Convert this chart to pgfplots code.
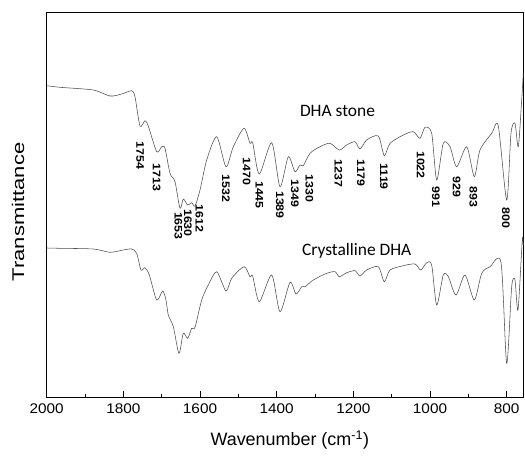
\documentclass[border=0pt]{standalone}
\usepackage{pgfplots}
\pgfplotsset{compat=1.18}
\usepackage{fontspec}
\setmainfont{Liberation Sans}
\newfontfamily\calfont{Carlito}
\begin{document}
\begin{tikzpicture}
\useasboundingbox (-46.7bp,-58.3bp) rectangle (478.3bp,397.7bp);
\begin{axis}[
  at={(0,0)}, anchor=south west,
  scale only axis, width=476.6bp, height=385.4bp,
  x dir=reverse, xmin=756.7, xmax=2000,
  y dir=reverse, ymin=12.3, ymax=397.7,
  xtick={800,1000,...,2000}, minor xtick={900,1100,...,1900},
  ytick=\empty,
  xtick pos=bottom, tick align=inside,
  major tick length=7bp, minor tick length=3.5bp,
  tick style={black, line width=0.9pt},
  axis line style={line width=1.1pt},
  /pgf/number format/assume math mode=true,
  /pgf/number format/1000 sep={},
  xticklabel style={font=\fontsize{14}{14}\selectfont, xscale=1.1, yshift=-2.5bp},
  xlabel={Wavenumber (cm\textsuperscript{-1})},
  xlabel style={font=\fontsize{18}{18}\selectfont, at={(axis description cs:0.51,-0.11)}, anchor=center},
  ylabel={Transmittance},
  ylabel style={font=\fontsize{17}{17}\selectfont, xscale=1.3, at={(axis description cs:-0.060,0.482)}, anchor=center, rotate=0},
  clip=false,
]
\addplot[color=black!70, line width=0.55pt, mark=none, smooth, tension=0.45] coordinates {
(2000,85.7) (1965.3,87.3) (1878.4,90) (1834.9,96) (1804.3,94) (1778.3,90.7)
(1769.7,96.7) (1756.6,126) (1743.6,120.7) (1735,126) (1713,151.7) (1700,146.7)
(1691.4,148.3) (1678.3,173.3) (1665.3,181.7) (1652.3,208.3) (1643.7,199)
(1632.2,205) (1621.7,202.7) (1613.1,206) (1600,190) (1582.6,160) (1556.5,136.7)
(1532.3,166.7) (1513.2,146.7) (1485.3,128.3) (1469.6,143.3) (1462.6,142.7)
(1445.4,174) (1413,142.7) (1391.4,186.7) (1369.7,156.7) (1352.3,171.7)
(1339.2,165) (1330.6,165.7) (1313.1,153.3) (1287,146.7) (1261,143.3)
(1236.7,150) (1217.4,145) (1195.7,141.7) (1182.7,149) (1165.2,140) (1135,136)
(1119.3,155.7) (1104.4,143.3) (1069.7,135) (1043.7,131.7) (1026.2,138.3)
(1013.1,127.3) (995.7,133.3) (982.6,180) (965.4,143.3) (947.9,146.7)
(930.4,166.7) (904.3,146.7) (884.5,176.7) (869.7,150) (839.1,133.3)
(821.9,126) (800,200) (788.8,133.3) (778.4,123.3) (769.7,146.7) (760.9,100)
(756.7,73.3)
};
\addplot[color=black!70, line width=0.55pt, mark=none, smooth, tension=0.45] coordinates {
(2000,248) (1965.3,248.3) (1878.4,249) (1834.9,252.3) (1800.2,250) (1778.3,249)
(1765.2,253.3) (1754,270) (1743.6,267.7) (1732.3,275) (1713,300) (1697.4,291)
(1688.8,300) (1682.8,315) (1669.7,326.7) (1654.9,353.3) (1643.7,333.3)
(1632.2,338.3) (1621.7,328.3) (1613.1,327.3) (1595.7,300) (1578.4,285)
(1556.5,271.7) (1532.3,291) (1517.4,278.3) (1485.3,266.7) (1469.6,276.7)
(1462.6,276) (1445.4,301.7) (1413,275) (1391.4,311.7) (1365.3,282.3)
(1349.6,294) (1334.8,286.7) (1326.2,286.7) (1304.5,280) (1269.6,273.3)
(1247.9,271.7) (1236.7,276.7) (1217.4,272.7) (1195.7,270.7) (1182.7,276)
(1165.2,270) (1135,266.7) (1119.3,281.7) (1104.4,270) (1069.7,265.7)
(1039.2,264) (1024.3,270) (1008.7,262.7) (995.7,265) (982.6,305) (965.4,275)
(952.3,276.7) (932.3,295) (908.8,275) (884.5,300) (865.2,273.3) (843.5,266.7)
(814.8,262.7) (800,363.3) (787,286.7) (778.4,280) (770.5,310) (759.3,240)
(756.7,245)
};
\begin{scope}[every node/.style={font=\fontsize{11}{11}\selectfont\bfseries, rotate=-90, xscale=1.13, anchor=center, inner sep=0pt}]
\node at (axis cs:1756.6,155.5) {1754};
\node at (axis cs:1713,177.5) {1713};
\node at (axis cs:1656.2,225.8) {1653};
\node at (axis cs:1631.4,223) {1630};
\node at (axis cs:1601.4,218.7) {1612};
\node at (axis cs:1532.3,188.3) {1532};
\node at (axis cs:1478.3,171.7) {1470};
\node at (axis cs:1445.4,195) {1445};
\node at (axis cs:1391.4,205) {1389};
\node at (axis cs:1352.3,193.3) {1349};
\node at (axis cs:1315,188.3) {1330};
\node at (axis cs:1239.3,173.3) {1237};
\node at (axis cs:1180.1,173.3) {1179};
\node at (axis cs:1120.1,176.7) {1119};
\node at (axis cs:1024.3,165) {1022};
\node at (axis cs:984.4,196.7) {991};
\node at (axis cs:930.4,186.7) {929};
\node at (axis cs:887.1,196.7) {893};
\node at (axis cs:801.8,218.3) {800};
\end{scope}
\node[font=\calfont\fontsize{17.5}{17.5}\selectfont, anchor=center] at (axis cs:1241.4,110.8) {DHA stone};
\node[font=\calfont\fontsize{17.5}{17.5}\selectfont, anchor=center] at (axis cs:1191.3,250.5) {Crystalline DHA};
\end{axis}
\end{tikzpicture}
\end{document}
